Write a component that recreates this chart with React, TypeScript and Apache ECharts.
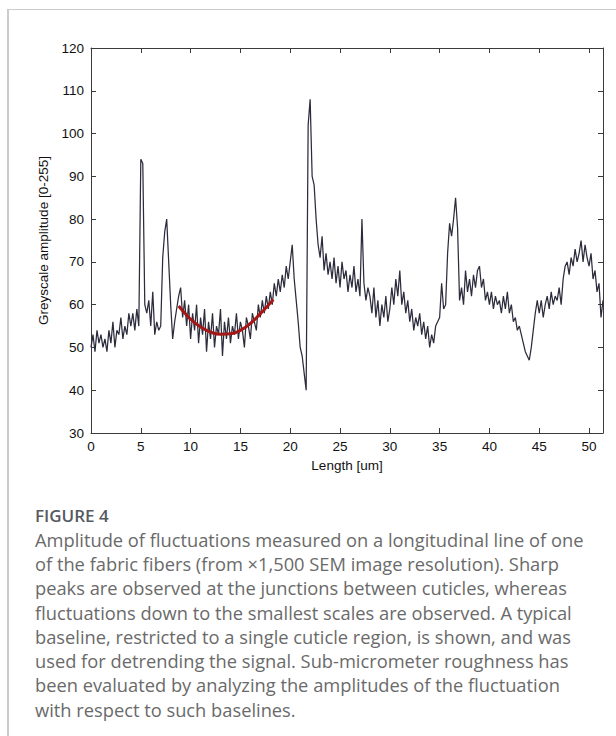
import React, { useEffect, useRef } from "react";
import * as echarts from "echarts";

// Greyscale profile along the fibre, sampled every 0.2 um starting at 0 um
const sampleStep = 0.2;
const greyscale: number[] = [
  // 0 - 4.8
  50, 53, 49, 54, 51,
  53, 50, 52, 49, 54,
  51, 56, 50, 54, 53,
  57, 52, 55, 53, 58,
  55, 58, 54, 59, 55,
  // 5 - 9.8
  94, 93, 60, 58, 61,
  55, 63, 53, 56, 54,
  55, 71, 77, 80, 70,
  60, 52, 56, 59, 62,
  64, 57, 61, 55, 60,
  // 10 - 14.8
  52, 58, 54, 60, 51,
  57, 53, 59, 49, 56,
  52, 58, 50, 55, 53,
  59, 48, 56, 52, 57,
  51, 55, 53, 58, 52,
  // 15 - 19.8
  56, 54, 50, 57, 55,
  52, 58, 56, 54, 60,
  57, 61, 58, 62, 59,
  63, 60, 65, 62, 66,
  63, 67, 64, 69, 66,
  // 20 - 24.8
  70, 74, 66, 61, 56,
  50, 48, 44, 40, 102,
  108, 90, 88, 80, 74,
  71, 76, 68, 72, 67,
  70, 66, 71, 65, 69,
  // 25 - 29.8
  64, 70, 66, 68, 63,
  67, 64, 69, 63, 66,
  62, 80, 65, 61, 64,
  62, 58, 64, 57, 61,
  55, 60, 57, 62, 56,
  // 30 - 34.8
  59, 64, 60, 66, 62,
  68, 60, 63, 58, 61,
  56, 59, 54, 57, 55,
  58, 53, 56, 52, 55,
  50, 53, 51, 55, 56,
  // 35 - 39.8
  57, 65, 59, 60, 72,
  79, 76, 80, 85, 78,
  61, 64, 60, 68, 63,
  66, 62, 67, 64, 68,
  69, 64, 66, 61, 63,
  // 40 - 44.8
  60, 63, 59, 62, 60,
  61, 58, 62, 59, 63,
  58, 60, 56, 57, 54,
  55, 53, 51, 49, 48,
  47, 50, 54, 58, 61,
  // 45 - 49.8
  58, 61, 57, 60, 62,
  59, 63, 60, 62, 61,
  64, 60, 66, 69, 70,
  67, 71, 69, 73, 70,
  72, 75, 70, 74, 71,
  // 50 - 51.4
  69, 72, 66, 68, 63,
  65, 57, 61,
];

// Baseline fitted over a single cuticle region
const baselineX = [8.8, 9.5, 10, 11, 12, 13, 14, 15, 16, 17, 18, 18.3];
const baselineY = [59.7, 57.8, 56.6, 54.8, 53.6, 53.1, 53.2, 54.0, 55.6, 57.9, 60.4, 61.2];

const xMin = 0;
const xMax = 51.4;
const yMin = 30;
const yMax = 120;

const figureLabel = "FIGURE 4";
const captionLines = [
  "Amplitude of fluctuations measured on a longitudinal line of one",
  "of the fabric fibers (from \u00d71,500 SEM image resolution). Sharp",
  "peaks are observed at the junctions between cuticles, whereas",
  "fluctuations down to the smallest scales are observed. A typical",
  "baseline, restricted to a single cuticle region, is shown, and was",
  "used for detrending the signal. Sub-micrometer roughness has",
  "been evaluated by analyzing the amplitudes of the fluctuation",
  "with respect to such baselines.",
];

const axisFont = "'Liberation Sans', Arial, sans-serif";
const captionFont = "'Open Sans', 'Noto Sans', sans-serif";

const axisLine = () => ({ show: true, onZero: false, lineStyle: { color: "#3a3a3a", width: 1 } });
const innerTicks = () => ({ show: true, inside: true, length: 5, lineStyle: { color: "#3a3a3a", width: 1 } });
const axisText = () => ({ color: "#111", fontFamily: axisFont, fontSize: 13.5 });

export default function App() {
  const ref = useRef<HTMLDivElement>(null);

  useEffect(() => {
    if (!ref.current) return;
    const chart = echarts.init(ref.current, undefined, { renderer: "svg" });

    const signal = greyscale.map((v, i) => [+(i * sampleStep).toFixed(2), v]);
    const baseline = baselineX.map((x, i) => [x, baselineY[i]]);

    chart.setOption({
      animation: false,
      backgroundColor: "#ffffff",
      grid: { left: 91, right: 13, top: 48, bottom: 303 },
      xAxis: [
        {
          type: "value",
          min: xMin,
          max: xMax,
          interval: 5,
          position: "bottom",
          axisLine: axisLine(),
          axisTick: innerTicks(),
          axisLabel: { ...axisText(), margin: 6, showMaxLabel: false },
          splitLine: { show: false },
          name: "Length [um]",
          nameLocation: "middle",
          nameGap: 25,
          nameTextStyle: axisText(),
        },
        {
          type: "value",
          min: xMin,
          max: xMax,
          interval: 5,
          position: "top",
          axisLine: axisLine(),
          axisTick: innerTicks(),
          axisLabel: { show: false },
          splitLine: { show: false },
        },
      ],
      yAxis: [
        {
          type: "value",
          min: yMin,
          max: yMax,
          interval: 10,
          position: "left",
          axisLine: axisLine(),
          axisTick: innerTicks(),
          axisLabel: { ...axisText(), margin: 7 },
          splitLine: { show: false },
          name: "Greyscale amplitude [0-255]",
          nameLocation: "middle",
          nameGap: 35,
          nameTextStyle: axisText(),
        },
        {
          type: "value",
          min: yMin,
          max: yMax,
          interval: 10,
          position: "right",
          axisLine: axisLine(),
          axisTick: innerTicks(),
          axisLabel: { show: false },
          splitLine: { show: false },
        },
      ],
      series: [
        {
          type: "line",
          data: signal,
          xAxisIndex: 0,
          yAxisIndex: 0,
          showSymbol: false,
          lineStyle: { color: "#2c2c3c", width: 1.25 },
          z: 2,
        },
        {
          type: "line",
          data: baseline,
          xAxisIndex: 0,
          yAxisIndex: 0,
          showSymbol: false,
          smooth: true,
          lineStyle: { color: "#a51717", width: 3 },
          z: 3,
        },
      ],
      graphic: [
        { type: "rect", shape: { x: 7, y: 9, width: 2, height: 727 }, style: { fill: "#cccccc" }, silent: true },
        { type: "rect", shape: { x: 7, y: 9, width: 609, height: 1 }, style: { fill: "#cccccc" }, silent: true },
        {
          type: "text",
          left: 35,
          top: 507,
          style: {
            text: figureLabel,
            fill: "#555a60",
            font: `600 17px ${captionFont}`,
          },
        },
        {
          type: "text",
          left: 35,
          top: 527,
          style: {
            text: captionLines.join("\n"),
            fill: "#6a6a6a",
            font: `400 18.3px ${captionFont}`,
            lineHeight: 24.3,
          },
        },
      ],
    });

    return () => chart.dispose();
  }, []);

  return (
    <div
      ref={ref}
      style={{ position: "fixed", left: 0, top: 0, width: 616, height: 736 }}
    />
  );
}
